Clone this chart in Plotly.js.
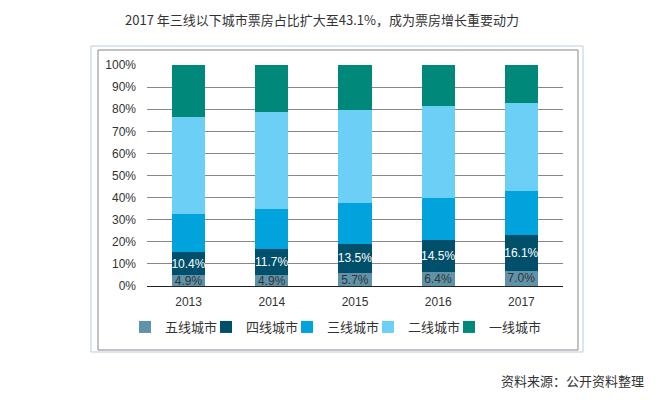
<!DOCTYPE html>
<html>
<head>
<meta charset="utf-8">
<script src="https://cdn.plot.ly/plotly-3.0.1.min.js"></script>
<style>
  html, body { margin: 0; padding: 0; background: #fff; }
  #chart { width: 671px; height: 400px; }
</style>
</head>
<body>
<div id="chart"></div>
<script>
const years = ['2013', '2014', '2015', '2016', '2017']
const tier5 = [4.9, 4.9, 5.7, 6.4, 7.0]
const tier4 = [10.4, 11.7, 13.5, 14.5, 16.1]
const tier3 = [17.2, 18.2, 18.4, 18.9, 20.0]
const tier2 = [43.9, 43.8, 41.9, 41.5, 39.6]
const tier1 = [23.6, 21.4, 20.5, 18.7, 17.3]
const seriesNames = ['五线城市', '四线城市', '三线城市', '二线城市', '一线城市']
const seriesColors = ['#5f93a9', '#00506b', '#00a3dc', '#6ccff6', '#00897b']
const yTicks = [0, 10, 20, 30, 40, 50, 60, 70, 80, 90, 100]

const cjk = '"Noto Sans CJK SC", "Liberation Sans", sans-serif'
const latin = '"Liberation Sans", Arial, sans-serif'

// plot area in pixels, used to place the frame boxes in paper units
const plotL = 147, plotR = 563, plotT = 65, plotB = 286
const px = x => (x - plotL) / (plotR - plotL)
const py = y => (plotB - y) / (plotB - plotT)

// one legend per series so each key sits where the reference has it
const legendKeyX = [144, 225, 306, 387, 468]
const legendId = i => (i === 0 ? 'legend' : 'legend' + (i + 1))

const makeTrace = (values, i, labelColor) => {
  const trace = {
    x: years,
    y: values,
    type: 'bar',
    name: seriesNames[i],
    legend: legendId(i),
    marker: { color: seriesColors[i], line: { width: 0 } },
    hoverinfo: 'skip'
  }
  if (labelColor) {
    trace.text = values.map(v => v.toFixed(1) + '%')
    trace.textposition = 'inside'
    trace.insidetextanchor = 'middle'
    trace.textangle = 0
    trace.textfont = { family: latin, size: 12, color: labelColor }
  } else {
    trace.textposition = 'none'
  }
  return trace
}

const data = [
  makeTrace(tier5, 0, '#333333'),
  makeTrace(tier4, 1, '#ffffff'),
  makeTrace(tier3, 2),
  makeTrace(tier2, 3),
  makeTrace(tier1, 4)
]

const layout = {
  width: 671,
  height: 400,
  margin: { l: plotL, r: 671 - plotR, t: plotT, b: 400 - plotB, pad: 0 },
  paper_bgcolor: '#ffffff',
  plot_bgcolor: '#ffffff',
  barmode: 'stack',
  bargap: 0.6,
  uniformtext: { mode: 'show', minsize: 12 },
  showlegend: true,
  title: {
    text: '2017 年三线以下城市票房占比扩大至43.1%，成为票房增长重要动力',
    x: 322 / 671,
    xanchor: 'center',
    y: 1 - 20 / 400,
    yanchor: 'middle',
    font: { family: cjk, size: 13, color: '#333333' }
  },
  xaxis: {
    type: 'category',
    showline: true,
    linecolor: '#222222',
    linewidth: 1,
    showgrid: false,
    ticks: '',
    ticklabelstandoff: 5,
    tickfont: { family: latin, size: 12, color: '#333333' },
    fixedrange: true
  },
  yaxis: {
    range: [0, 100],
    tickmode: 'array',
    tickvals: yTicks,
    ticktext: yTicks.map(v => v + '%'),
    showgrid: true,
    gridcolor: '#878787',
    gridwidth: 1,
    zeroline: false,
    showline: false,
    ticks: '',
    ticklabelstandoff: 10,
    tickfont: { family: latin, size: 12, color: '#333333' },
    fixedrange: true
  },
  shapes: [
    {
      type: 'rect', xref: 'paper', yref: 'paper',
      x0: px(91), x1: px(583), y0: py(352), y1: py(46),
      line: { color: '#b9cde5', width: 1 }, layer: 'below'
    },
    {
      type: 'rect', xref: 'paper', yref: 'paper',
      x0: px(98), x1: px(578), y0: py(350), y1: py(50),
      line: { color: '#868686', width: 1 }, layer: 'below'
    }
  ],
  annotations: [
    {
      text: '资料来源：公开资料整理',
      xref: 'paper', yref: 'paper',
      x: px(646), xanchor: 'right',
      y: py(380), yanchor: 'middle',
      showarrow: false,
      font: { family: cjk, size: 13, color: '#333333' }
    }
  ]
}

seriesNames.forEach((name, i) => {
  layout[legendId(i)] = {
    orientation: 'h',
    x: px(legendKeyX[i] - 19),
    xanchor: 'left',
    y: py(327),
    yanchor: 'middle',
    itemwidth: 30,
    font: { family: cjk, size: 13, color: '#333333' },
    bgcolor: 'rgba(0,0,0,0)'
  }
})

Plotly.newPlot('chart', data, layout, { displayModeBar: false, staticPlot: true })
</script>
</body>
</html>
